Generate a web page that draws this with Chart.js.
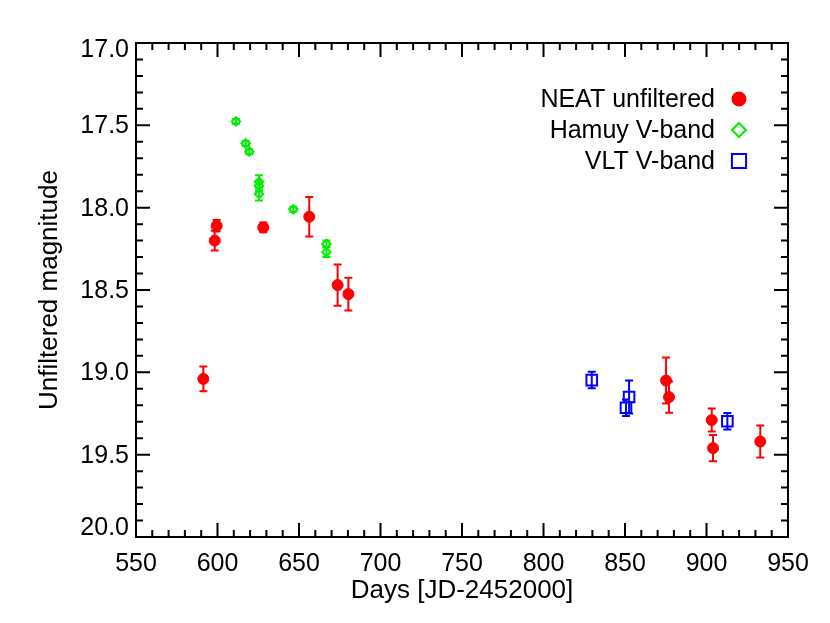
<!DOCTYPE html>
<html lang="en">
<head>
<meta charset="UTF-8">
<title>Light curve</title>
<style>
  body{margin:0;background:#fff}
  #wrap{width:830px;height:623px;position:relative}
</style>
</head>
<body>
<div id="wrap"><canvas id="chart"></canvas></div>

<script src="https://cdn.jsdelivr.net/npm/chart.js@4.4.0"></script>
<script>
/* ---------- data ---------- */
const neatDays  = [591.3, 598.3, 599.5, 628.1, 656.3, 673.7, 680.3, 875.2, 877.0, 903.2, 904.0, 933.0];
const neatMag   = [19.04, 18.20, 18.11, 18.12, 18.055, 18.47, 18.525, 19.05, 19.15, 19.29, 19.46, 19.42];
const neatErr   = [0.075, 0.06, 0.035, 0.03, 0.12, 0.125, 0.10, 0.14, 0.095, 0.07, 0.08, 0.097];

const hamuyDays = [611.3, 617.3, 619.5, 625.5, 625.5, 625.5, 646.5, 666.8, 666.8];
const hamuyMag  = [17.476, 17.61, 17.66, 17.843, 17.867, 17.917, 18.01, 18.22, 18.27];
const hamuyErr  = [0.015, 0.015, 0.015, 0.04, 0.03, 0.04, 0.015, 0.02, 0.03];

const vltDays   = [829.6, 850.6, 852.5, 912.8];
const vltMag    = [19.047, 19.215, 19.15, 19.297];
const vltErr    = [0.05, 0.05, 0.10, 0.05];

const xTicks = [550, 600, 650, 700, 750, 800, 850, 900, 950];
const yTicks = [17.0, 17.5, 18.0, 18.5, 19.0, 19.5, 20.0];

const FONT = 'Liberation Sans';

function pts(d, m, e){ return d.map((x,i)=>({x:x, y:m[i], err:e[i]})); }

/* ---------- error bars (drawn under the markers) ---------- */
const errorBars = {
  id:'errorBars',
  beforeDatasetsDraw(chart){
    const {ctx, scales:{x, y}} = chart;
    ctx.save();
    chart.data.datasets.forEach(ds=>{
      ctx.strokeStyle = ds.borderColor;
      ctx.lineWidth = 2;
      ds.data.forEach(p=>{
        const px = x.getPixelForValue(p.x);
        const y1 = y.getPixelForValue(p.y - p.err);
        const y2 = y.getPixelForValue(p.y + p.err);
        ctx.beginPath();
        ctx.moveTo(px, y1); ctx.lineTo(px, y2);
        ctx.moveTo(px-4, y1); ctx.lineTo(px+4, y1);
        ctx.moveTo(px-4, y2); ctx.lineTo(px+4, y2);
        ctx.stroke();
      });
    });
    ctx.restore();
  }
};

/* ---------- frame with inward ticks on all four sides + y labels ---------- */
const frame = {
  id:'frame',
  afterDraw(chart){
    const {ctx, chartArea:a, scales:{x, y}} = chart;
    ctx.save();
    ctx.strokeStyle = '#000';
    ctx.lineWidth = 2;
    ctx.strokeRect(a.left, a.top, a.right-a.left, a.bottom-a.top);
    ctx.beginPath();
    for(let v=550; v<=950.001; v+=10){
      const px = x.getPixelForValue(v);
      const len = (Math.round(v) % 50 === 0) ? 14 : 7;
      ctx.moveTo(px, a.bottom); ctx.lineTo(px, a.bottom-len);
      ctx.moveTo(px, a.top);    ctx.lineTo(px, a.top+len);
    }
    for(let k=0; k<=30; k++){
      const v = 17 + k*0.1;
      const py = y.getPixelForValue(v);
      const len = (k % 5 === 0) ? 14 : 7;
      ctx.moveTo(a.left, py);  ctx.lineTo(a.left+len, py);
      ctx.moveTo(a.right, py); ctx.lineTo(a.right-len, py);
    }
    ctx.stroke();

    // y tick labels, end labels kept inside the frame like the original
    ctx.font = '25px "' + FONT + '"';
    ctx.fillStyle = '#000';
    ctx.textAlign = 'right';
    ctx.textBaseline = 'middle';
    yTicks.forEach(v=>{
      const py = y.getPixelForValue(v);
      const cy = Math.min(Math.max(py, a.top + 6), a.bottom - 10);
      ctx.fillText(v.toFixed(1), a.left - 7, cy + 1);
    });
    ctx.restore();
  }
};

/* ---------- legend: text on the left, marker on the right ---------- */
const legendRight = {
  id:'legendRight',
  afterDraw(chart){
    const {ctx, chartArea:a} = chart;
    ctx.save();
    ctx.font = '25px "' + FONT + '"';
    ctx.textAlign = 'right';
    ctx.textBaseline = 'middle';
    chart.data.datasets.forEach((ds,i)=>{
      const ty = a.top + 56 + i*31;
      ctx.fillStyle = '#000';
      ctx.fillText(ds.label, a.right - 73, ty + 1);
      ctx.strokeStyle = ds.borderColor;
      ctx.fillStyle = ds.pointBackgroundColor;
      ctx.lineWidth = 2;
      Chart.helpers.drawPoint(ctx, {pointStyle:ds.pointStyle, radius:ds.legendRadius, rotation:0, borderWidth:2}, a.right - 49, ty);
    });
    ctx.restore();
  }
};

new Chart(document.getElementById('chart'), {
  type:'scatter',
  data:{datasets:[
    {label:'NEAT unfiltered', data:pts(neatDays, neatMag, neatErr),
     pointStyle:'circle', pointRadius:5.5, legendRadius:6.5,
     borderColor:'#ff0000', pointBackgroundColor:'#ff0000', pointBorderColor:'#ff0000', pointBorderWidth:1},
    {label:'Hamuy V-band', data:pts(hamuyDays, hamuyMag, hamuyErr),
     pointStyle:'rectRot', pointRadius:4.2, legendRadius:7,
     borderColor:'#00ee00', pointBackgroundColor:'rgba(0,0,0,0)', pointBorderColor:'#00ee00', pointBorderWidth:2},
    {label:'VLT V-band', data:pts(vltDays, vltMag, vltErr),
     pointStyle:'rect', pointRadius:7.5, legendRadius:10,
     borderColor:'#0000ff', pointBackgroundColor:'rgba(0,0,0,0)', pointBorderColor:'#0000ff', pointBorderWidth:2}
  ]},
  options:{
    responsive:true, maintainAspectRatio:false, animation:false,
    layout:{padding:{top:43, right:42, left:0, bottom:0}},
    plugins:{legend:{display:false}, tooltip:{enabled:false}},
    scales:{
      x:{
        type:'linear', min:550, max:950,
        afterBuildTicks: s => { s.ticks = xTicks.map(v=>({value:v})); },
        afterFit: s => { s.height = 86; },
        grid:{display:false}, border:{display:false},
        ticks:{color:'#000', padding:4, font:{family:FONT, size:25}, maxRotation:0, autoSkip:false},
        title:{display:true, text:'Days [JD-2452000]', color:'#000', font:{family:FONT, size:26}, padding:{top:0, bottom:17}}
      },
      y:{
        type:'linear', min:17, max:20, reverse:true,
        afterBuildTicks: s => { s.ticks = yTicks.map(v=>({value:v})); },
        afterFit: s => { s.width = 136; },
        grid:{display:false}, border:{display:false},
        ticks:{display:false},
        title:{display:true, text:'Unfiltered magnitude', color:'#000', font:{family:FONT, size:26}, padding:{top:34, bottom:0}}
      }
    }
  },
  plugins:[errorBars, frame, legendRight]
});
</script>
</body>
</html>
